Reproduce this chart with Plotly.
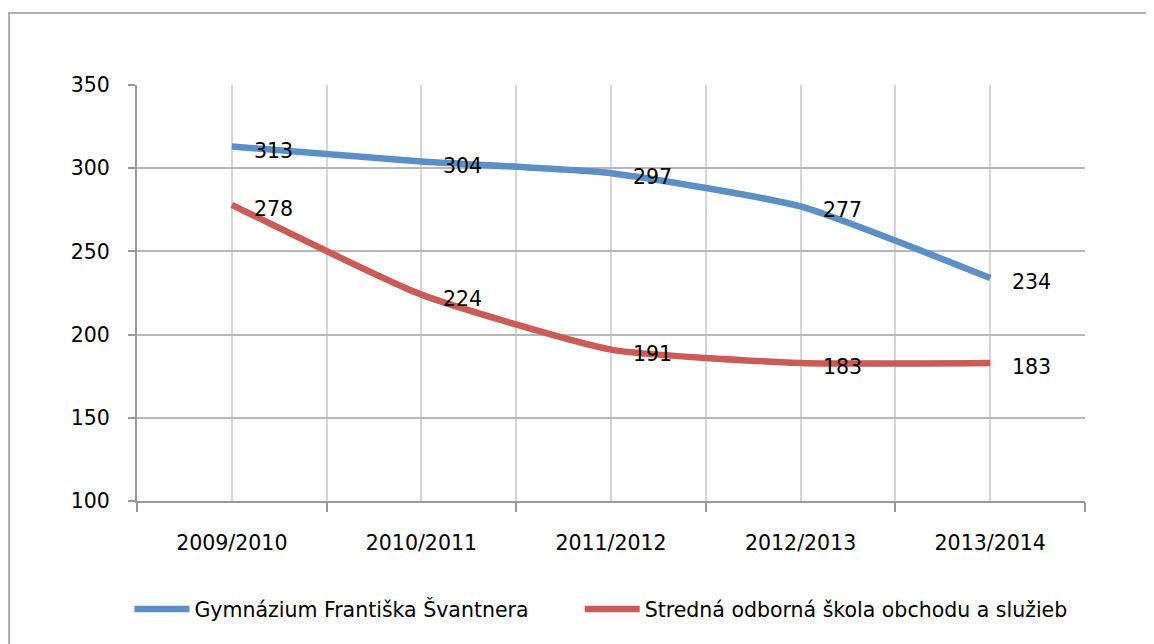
import plotly.graph_objects as go

# data
categories = ["2009/2010", "2010/2011", "2011/2012", "2012/2013", "2013/2014"]
gymnazium = [313, 304, 297, 277, 234]
sos = [278, 224, 191, 183, 183]
series_names = ["Gymnázium Františka Švantnera", "Stredná odborná škola obchodu a služieb"]
y_ticks = [100, 150, 200, 250, 300, 350]

colors = ["#5A8FC8", "#CC5A55"]
font_family = "DejaVu Sans"
font_size = 20.5

x_pos = list(range(len(categories)))

fig = go.Figure()

legend_refs = ["legend", "legend2"]
for name, values, color, leg in zip(series_names, [gymnazium, sos], colors, legend_refs):
    fig.add_trace(go.Scatter(
        x=x_pos, y=values,
        mode="lines",
        name=name,
        legend=leg,
        line=dict(color=color, width=6.5, shape="spline", smoothing=0.5),
        hoverinfo="skip",
    ))
    # value labels to the right of each point
    for xi, v in zip(x_pos, values):
        fig.add_annotation(
            x=xi, y=v, text=str(v),
            showarrow=False, xanchor="left", yanchor="middle",
            xshift=20, yshift=-4,
            font=dict(family=font_family, size=font_size, color="black"),
        )

fig.update_xaxes(
    range=[-0.5, len(categories) - 0.5],
    tickvals=x_pos, ticktext=categories,
    tickfont=dict(family=font_family, size=font_size, color="black"),
    showgrid=True, gridcolor="#D6D6D6", gridwidth=2,
    ticks="", showline=True, linecolor="#9A9A9A", linewidth=2,
    ticklabelstandoff=22,
    minor=dict(tick0=-0.5, dtick=1, showgrid=True, gridcolor="#D6D6D6", gridwidth=2,
               ticks="outside", ticklen=9, tickcolor="#9A9A9A", tickwidth=2),
    zeroline=False, fixedrange=True,
)
fig.update_yaxes(
    range=[100, 350], tickvals=y_ticks,
    tickfont=dict(family=font_family, size=font_size, color="black"),
    showgrid=True, gridcolor="#B8B8B8", gridwidth=2,
    ticks="outside", ticklen=7, tickcolor="#9A9A9A", tickwidth=2,
    ticklabelstandoff=14,
    showline=True, linecolor="#9A9A9A", linewidth=2,
    zeroline=False, fixedrange=True,
)

# outer chart frame (runs off the right and bottom of the picture)
fig.add_shape(type="rect", xref="paper", yref="paper",
              x0=-0.135, y0=-0.5, x1=1.3, y1=1.173,
              line=dict(color="#B0B0B0", width=2), layer="below")

legend_style = dict(
    orientation="h", y=-0.26, yanchor="middle", xanchor="left",
    font=dict(family=font_family, size=font_size, color="black"),
    itemwidth=55, bgcolor="rgba(0,0,0,0)",
)

# page body adds an 8px margin, so the figure is 8px smaller than the window
fig.update_layout(
    width=1146, height=636,
    margin=dict(l=129, r=69, t=77, b=143),
    plot_bgcolor="white", paper_bgcolor="white",
    showlegend=True,
    legend=dict(x=-0.008, **legend_style),
    legend2=dict(x=0.467, **legend_style),
)

fig.write_html("out.html")
